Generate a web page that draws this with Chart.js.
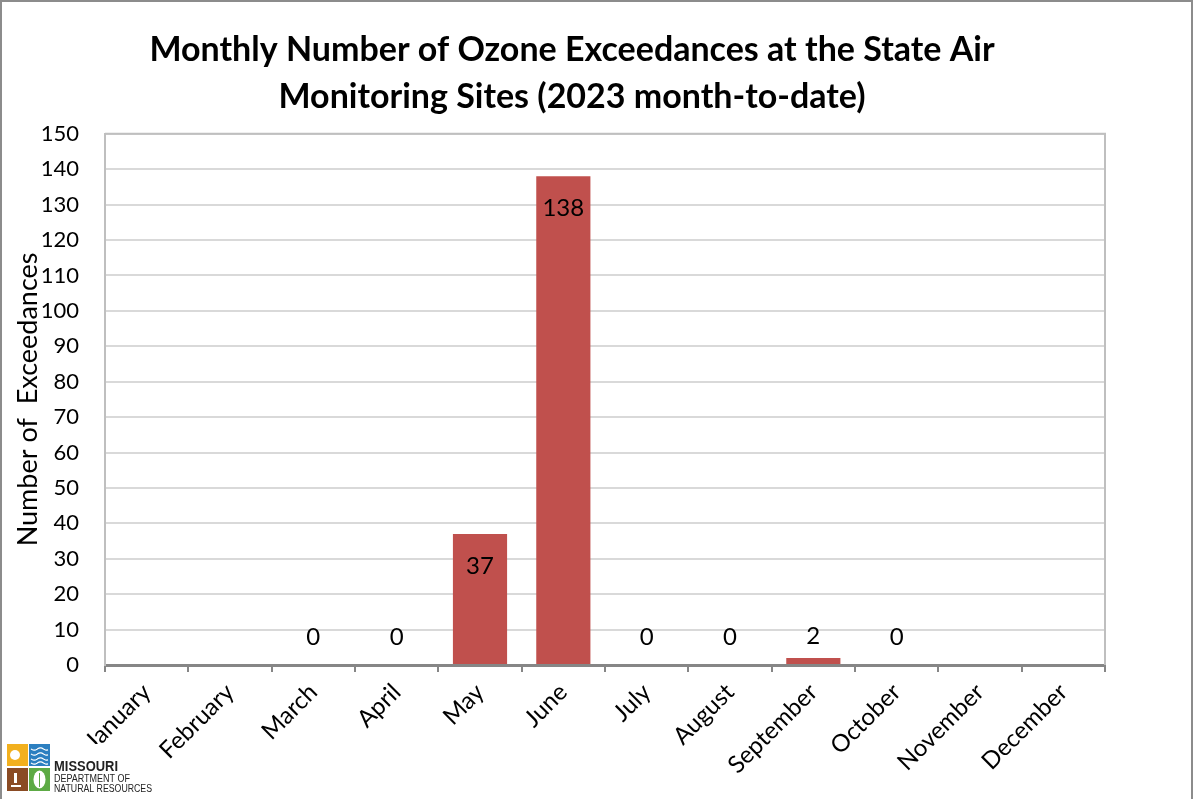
<!DOCTYPE html>
<html>
<head>
<meta charset="utf-8">
<script src="https://cdn.jsdelivr.net/npm/chart.js@4.4.0/dist/chart.umd.min.js"></script>
<style>
  html, body { margin: 0; padding: 0; background: #fff; }
  #wrap { position: relative; width: 1193px; height: 799px; box-sizing: border-box;
          border-left: 2px solid #8c8c8c; border-top: 2px solid #8c8c8c; border-right: 2px solid #8c8c8c; }
  canvas { display: block; }
</style>
</head>
<body>
<div id="wrap"><canvas id="myChart" width="1189" height="797" style="width:1189px;height:797px"></canvas></div>
<script>
let months = ['January', 'February', 'March', 'April', 'May', 'June', 'July', 'August', 'September', 'October', 'November', 'December'];
let exceedances = [null, null, 0, 0, 37, 138, 0, 0, 2, 0, null, null];
let titleLines = ['Monthly Number of Ozone Exceedances at the State Air', 'Monitoring Sites (2023 month-to-date)'];
let barColor = '#C0504D';
let fontFamily = 'Lato, "Open Sans", sans-serif';

// value labels: inside the top of tall bars, just above the axis for small ones
let valueLabels = {
  id: 'valueLabels',
  afterDatasetsDraw(chart) {
    let ctx = chart.ctx;
    let meta = chart.getDatasetMeta(0);
    ctx.save();
    ctx.font = '24px ' + fontFamily;
    ctx.fillStyle = '#000';
    ctx.textAlign = 'center';
    ctx.textBaseline = 'middle';
    meta.data.forEach((bar, i) => {
      let v = exceedances[i];
      if (v === null) return;
      let y = (bar.base - bar.y > 45) ? bar.y + 32 : bar.base - 28;
      ctx.fillText(String(v), bar.x, y);
    });
    ctx.restore();
  }
};

// plot area frame (top / right)
let plotFrame = {
  id: 'plotFrame',
  beforeDatasetsDraw(chart) {
    let a = chart.chartArea;
    let ctx = chart.ctx;
    ctx.save();
    ctx.strokeStyle = '#BFBFBF';
    ctx.lineWidth = 2;
    ctx.beginPath();
    ctx.moveTo(a.left, a.top);
    ctx.lineTo(a.right, a.top);
    ctx.lineTo(a.right, a.bottom);
    ctx.stroke();
    ctx.restore();
  }
};

// agency logo, bottom left
let logo = {
  id: 'logo',
  afterDraw(chart) {
    let ctx = chart.ctx;
    ctx.save();
    ctx.fillStyle = '#fff';
    ctx.fillRect(4, 742, 150, 53);
    ctx.fillStyle = '#F2B01E'; ctx.fillRect(5, 742, 21, 22);
    ctx.fillStyle = '#2C7FC0'; ctx.fillRect(27, 742, 21, 22);
    ctx.fillStyle = '#8A4B24'; ctx.fillRect(5, 766, 21, 23);
    ctx.fillStyle = '#5DAA45'; ctx.fillRect(27, 766, 21, 23);
    ctx.fillStyle = '#fff';
    ctx.beginPath(); ctx.arc(13, 753, 5, 0, Math.PI * 2); ctx.fill();
    ctx.strokeStyle = '#fff'; ctx.lineWidth = 1.2;
    [747, 752, 757, 761].forEach(y => {
      ctx.beginPath();
      for (let x = 29; x <= 46; x++) {
        let yy = y + Math.sin((x - 29) / 2) * 1.2;
        if (x === 29) ctx.moveTo(x, yy); else ctx.lineTo(x, yy);
      }
      ctx.stroke();
    });
    ctx.beginPath(); ctx.ellipse(37.5, 777.5, 6, 9, 0, 0, Math.PI * 2); ctx.fill();
    ctx.fillStyle = '#5DAA45'; ctx.fillRect(37, 771, 1, 14);
    ctx.fillStyle = '#fff';
    ctx.fillRect(12, 771, 3, 10); ctx.fillRect(9, 783, 10, 2);
    ctx.fillStyle = '#222';
    ctx.textBaseline = 'middle';
    ctx.font = 'bold 14px "Liberation Sans", sans-serif';
    ctx.fillText('MISSOURI', 52, 765, 64);
    ctx.font = '10px "Liberation Sans", sans-serif';
    ctx.fillText('DEPARTMENT OF', 52, 777, 76);
    ctx.fillText('NATURAL RESOURCES', 52, 787, 98);
    ctx.restore();
  }
};

let chartCtx = document.getElementById('myChart').getContext('2d');
let chart = new Chart(chartCtx, {
  type: 'bar',
  data: {
    labels: months,
    datasets: [{
      data: exceedances,
      backgroundColor: barColor,
      categoryPercentage: 1,
      barPercentage: 0.65
    }]
  },
  options: {
    responsive: false,
    animation: false,
    layout: { padding: { left: 37, right: 86, top: 0, bottom: 0 } },
    plugins: {
      legend: { display: false },
      tooltip: { enabled: false },
      title: {
        display: true,
        text: titleLines,
        color: '#000',
        font: { family: fontFamily, size: 34, weight: 'bold', lineHeight: 1.38 },
        padding: { top: 25, bottom: 13 }
      }
    },
    scales: {
      x: {
        grid: { offset: true, drawOnChartArea: false, drawTicks: true, tickLength: 7, color: '#868686', lineWidth: 2 },
        border: { color: '#868686', width: 3 },
        ticks: { color: '#000', font: { family: fontFamily, size: 24 }, minRotation: 45, maxRotation: 45, padding: 6, autoSkip: false },
        afterFit(scale) { scale.height = 134; }
      },
      y: {
        min: 0,
        max: 150,
        grid: { color: '#D9D9D9', lineWidth: 2, drawTicks: false },
        border: { color: '#BFBFBF', width: 2 },
        ticks: { stepSize: 10, color: '#000', font: { family: fontFamily, size: 22 }, padding: 26, autoSkip: false },
        title: { display: true, text: 'Number of  Exceedances', color: '#000', font: { family: fontFamily, size: 27 }, padding: { top: -27, bottom: 0 } },
        afterFit(scale) { scale.width = 66; }
      }
    }
  },
  plugins: [plotFrame, valueLabels, logo]
});
</script>
</body>
</html>
